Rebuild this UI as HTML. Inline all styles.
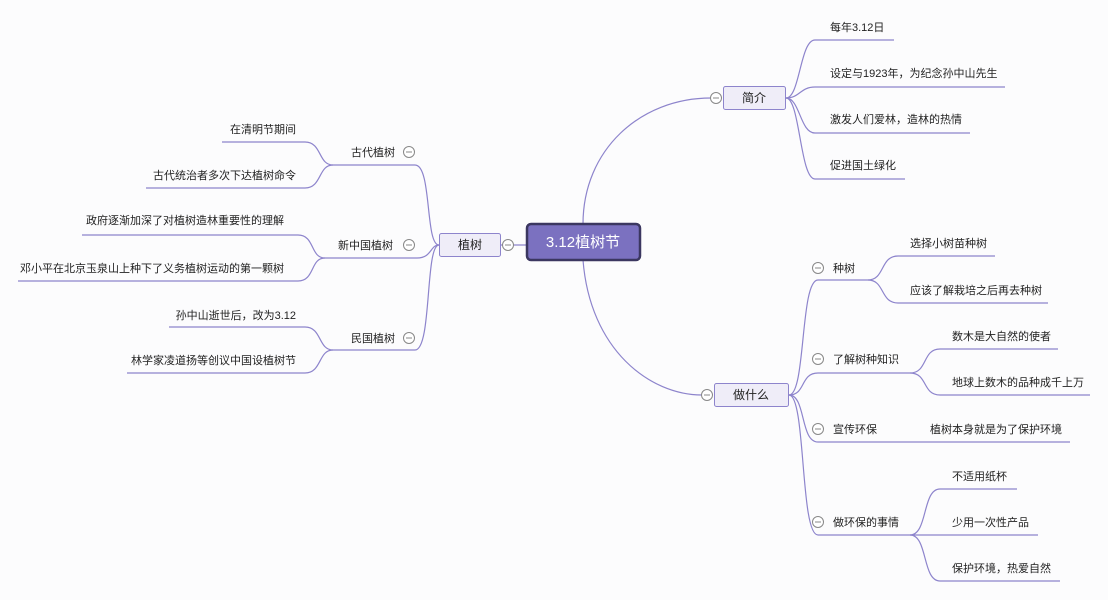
<!DOCTYPE html>
<html><head><meta charset="utf-8"><style>
body{margin:0;background:#fcfcfd;}
svg{display:block;}
text{font-family:"Liberation Sans","Noto Sans CJK SC",sans-serif;font-size:11px;fill:#222;}
</style></head><body>
<svg width="1108" height="600" viewBox="0 0 1108 600" xmlns="http://www.w3.org/2000/svg">
<g fill="none" stroke="#8d84cc" stroke-width="1.2">
<path d="M583,224 C583,150 640,98 711,98"/>
<path d="M583,260 C590,350 650,395 702,395"/>
<path d="M501,245 L526,245"/>
<path d="M786,98 C800,98 800,40 815,40 L894,40"/>
<path d="M786,98 C800,98 800,87 815,87 L1005,87"/>
<path d="M786,98 C800,98 800,133 815,133 L970,133"/>
<path d="M786,98 C800,98 800,179 815,179 L905,179"/>
<path d="M789,395 C806,395 800,280 818,280 L868,280"/>
<path d="M789,395 C806,395 800,373 818,373 L910,373"/>
<path d="M789,395 C806,395 800,442 818,442 L1070,442"/>
<path d="M789,395 C806,395 800,535 818,535 L910,535"/>
<path d="M868,280 C885,280 880,256 898,256 L995,256"/>
<path d="M868,280 C885,280 880,303 898,303 L1048,303"/>
<path d="M910,373 C928,373 922,349 940,349 L1058,349"/>
<path d="M910,373 C928,373 922,395 940,395 L1090,395"/>
<path d="M910,535 C928,535 922,489 940,489 L1017,489"/>
<path d="M910,535 L1038,535"/>
<path d="M910,535 C928,535 922,581 940,581 L1060,581"/>
<path d="M439,245 C425,245 432,165 415,165 L333,165"/>
<path d="M439,245 C430,245 432,258 417,258 L325,258"/>
<path d="M439,245 C425,245 432,350 415,350 L333,350"/>
<path d="M333,165 C318,165 322,142 305,142 L222,142"/>
<path d="M333,165 C318,165 322,188 305,188 L146,188"/>
<path d="M325,258 C310,258 315,235 298,235 L82,235"/>
<path d="M325,258 C310,258 315,281 298,281 L18,281"/>
<path d="M333,350 C318,350 322,327 305,327 L169,327"/>
<path d="M333,350 C318,350 322,373 305,373 L127,373"/>
</g>
<rect x="527" y="224" width="113" height="36" rx="4" fill="#7b71c0" stroke="#3b3760" stroke-width="2.5"/>
<text x="583" y="247" text-anchor="middle" style="font-size:15px;fill:#fff">3.12植树节</text>
<rect x="439.5" y="233.5" width="61" height="23" rx="2" fill="#efedf8" stroke="#8d84cc"/>
<text x="470" y="249" text-anchor="middle" style="font-size:12px">植树</text>
<rect x="723.5" y="86.5" width="62" height="23" rx="2" fill="#efedf8" stroke="#8d84cc"/>
<text x="754" y="102" text-anchor="middle" style="font-size:12px">简介</text>
<rect x="714.5" y="383.5" width="74" height="23" rx="2" fill="#efedf8" stroke="#8d84cc"/>
<text x="751" y="399" text-anchor="middle" style="font-size:12px">做什么</text>
<g fill="#fff" stroke="#888" stroke-width="1">
<circle cx="508" cy="245" r="5.5"/><circle cx="716" cy="98" r="5.5"/><circle cx="707" cy="395" r="5.5"/>
<circle cx="818" cy="268" r="5.5"/><circle cx="818" cy="359" r="5.5"/><circle cx="818" cy="429" r="5.5"/><circle cx="818" cy="522" r="5.5"/>
<circle cx="409" cy="152" r="5.5"/><circle cx="409" cy="245" r="5.5"/><circle cx="409" cy="338" r="5.5"/>
</g>
<g stroke="#888" stroke-width="1">
<path d="M505,245h6M713,98h6M704,395h6M815,268h6M815,359h6M815,429h6M815,522h6M406,152h6M406,245h6M406,338h6"/>
</g>
<text x="830" y="31">每年3.12日</text>
<text x="830" y="77">设定与1923年，为纪念孙中山先生</text>
<text x="830" y="123">激发人们爱林，造林的热情</text>
<text x="830" y="169">促进国土绿化</text>
<text x="833" y="272">种树</text>
<text x="833" y="363">了解树种知识</text>
<text x="833" y="433">宣传环保</text>
<text x="833" y="526">做环保的事情</text>
<text x="910" y="247">选择小树苗种树</text>
<text x="910" y="294">应该了解栽培之后再去种树</text>
<text x="952" y="340">数木是大自然的使者</text>
<text x="952" y="386">地球上数木的品种成千上万</text>
<text x="930" y="433">植树本身就是为了保护环境</text>
<text x="952" y="480">不适用纸杯</text>
<text x="952" y="526">少用一次性产品</text>
<text x="952" y="572">保护环境，热爱自然</text>
<g text-anchor="end">
<text x="395" y="156">古代植树</text>
<text x="393" y="249">新中国植树</text>
<text x="395" y="342">民国植树</text>
<text x="296" y="133">在清明节期间</text>
<text x="296" y="179">古代统治者多次下达植树命令</text>
<text x="284" y="224">政府逐渐加深了对植树造林重要性的理解</text>
<text x="284" y="272">邓小平在北京玉泉山上种下了义务植树运动的第一颗树</text>
<text x="296" y="319">孙中山逝世后，改为3.12</text>
<text x="296" y="364">林学家凌道扬等创议中国设植树节</text>
</g>
</svg>
</body></html>
